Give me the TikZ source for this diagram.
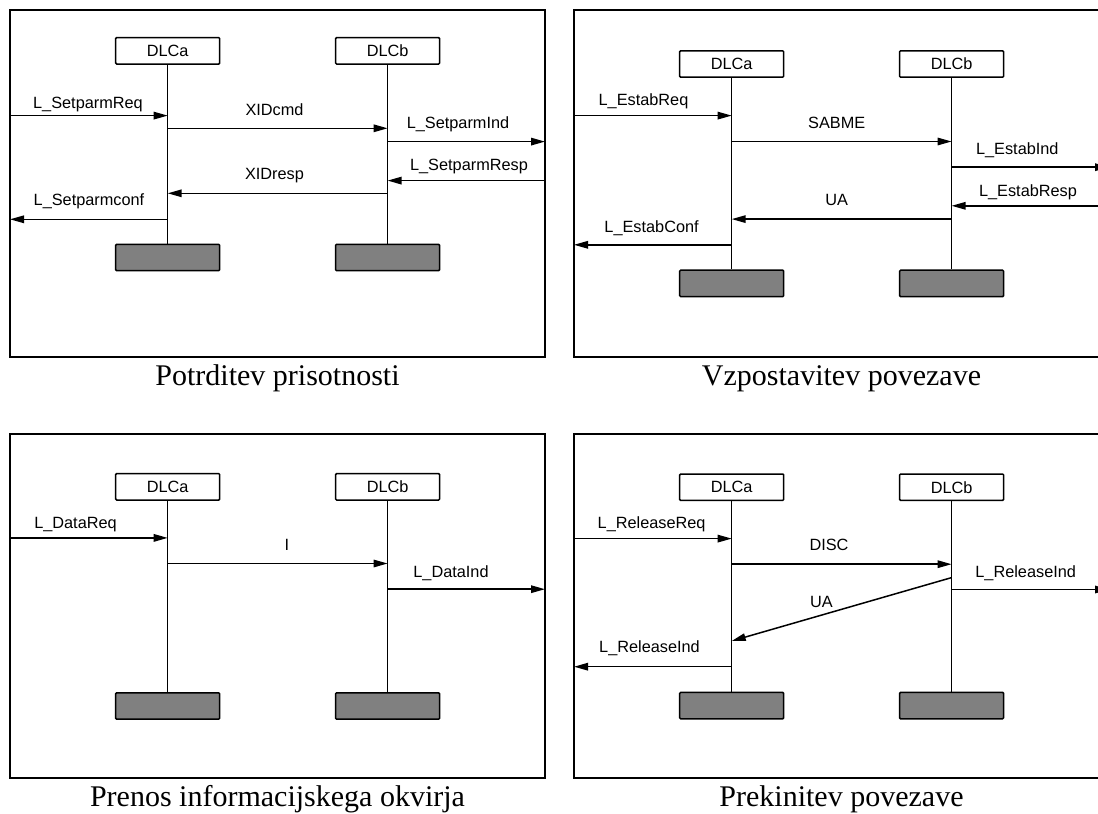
\documentclass[tikz,border=0pt]{standalone}
\usepackage{fontspec}
\setmainfont{Liberation Serif}
\newfontfamily\arialfont{Liberation Sans}
\usetikzlibrary{arrows.meta}
\definecolor{endgrey}{HTML}{808080}
\tikzset{
  panel/.style={draw, line width=2pt},
  dlcbox/.style={draw, line width=1.5pt, rounded corners=1pt, minimum width=104pt,
    minimum height=26.4pt, inner sep=0pt, font={\arialfont\fontsize{16.3}{19}\selectfont}},
  endbox/.style={dlcbox, fill=endgrey},
  life/.style={line width=1.5pt},
  msg/.style={line width=1.5pt, -{Triangle[length=14pt,width=7.5pt]}},
  msglabel/.style={anchor=base, inner sep=0pt, font={\arialfont\fontsize{16.3}{19}\selectfont}},
  caption/.style={anchor=base, inner sep=0pt, font={\fontsize{30}{36}\selectfont}},
}
\begin{document}
\begin{tikzpicture}[x=1pt,y=-1pt]
\useasboundingbox (0,0) rectangle (1098,814);
\clip (0,0) rectangle (1098,814);

% ---------- Potrditev prisotnosti ----------
\draw[panel] (10,10) rectangle (545,357);
\node[dlcbox] (p1a) at (167.7,50.8) {DLCa};
\node[dlcbox] (p1b) at (387.6,50.8) {DLCb};
\node[endbox] (p1ae) at (167.7,257.5) {};
\node[endbox] (p1be) at (387.6,257.5) {};
\draw[life] (p1a) -- (p1ae);
\draw[life] (p1b) -- (p1be);
\coordinate (p1m1) at (10,115.6);
\coordinate (p1m2) at (0,128.3);
\coordinate (p1m3) at (545,141.6);
\coordinate (p1m4) at (545,180.6);
\coordinate (p1m5) at (0,193.3);
\coordinate (p1m6) at (10,219.3);
\draw[msg] (p1m1) -- (p1a |- p1m1);
\draw[msg] (p1a |- p1m2) -- (p1b |- p1m2);
\draw[msg] (p1b |- p1m3) -- (p1m3);
\draw[msg] (p1m4) -- (p1b |- p1m4);
\draw[msg] (p1b |- p1m5) -- (p1a |- p1m5);
\draw[msg] (p1a |- p1m6) -- (p1m6);
\node[msglabel] (p1l1) at (88,108) {L\_SetparmReq};
\node[msglabel] (p1l2) at (274.5,115.8) {XIDcmd};
\node[msglabel] (p1l3) at (458,128.4) {L\_SetparmInd};
\node[msglabel] (p1l4) at (469,170) {L\_SetparmResp};
\node[msglabel] (p1l5) at (274.5,179.7) {XIDresp};
\node[msglabel] (p1l6) at (89,205.6) {L\_Setparmconf};
\node[caption] (p1cap) at (277.5,385) {Potrditev prisotnosti};

% ---------- Vzpostavitev povezave ----------
\draw[panel] (574,10) rectangle (1109,357);
\node[dlcbox] (p2a) at (731.7,64) {DLCa};
\node[dlcbox] (p2b) at (951.6,64) {DLCb};
\node[endbox] (p2ae) at (731.7,283.4) {};
\node[endbox] (p2be) at (951.6,283.4) {};
\draw[life] (p2a) -- (p2ae);
\draw[life] (p2b) -- (p2be);
\coordinate (p2m1) at (574,115.6);
\coordinate (p2m2) at (0,141.5);
\coordinate (p2m3) at (1109,167.2);
\coordinate (p2m4) at (1109,205.8);
\coordinate (p2m5) at (0,219.1);
\coordinate (p2m6) at (574,244.8);
\draw[msg] (p2m1) -- (p2a |- p2m1);
\draw[msg] (p2a |- p2m2) -- (p2b |- p2m2);
\draw[msg] (p2b |- p2m3) -- (p2m3);
\draw[msg] (p2m4) -- (p2b |- p2m4);
\draw[msg] (p2b |- p2m5) -- (p2a |- p2m5);
\draw[msg] (p2a |- p2m6) -- (p2m6);
\node[msglabel] (p2l1) at (643.5,105.8) {L\_EstabReq};
\node[msglabel] (p2l2) at (836.7,128.4) {SABME};
\node[msglabel] (p2l3) at (1017.3,154) {L\_EstabInd};
\node[msglabel] (p2l4) at (1028,196.3) {L\_EstabResp};
\node[msglabel] (p2l5) at (836.7,205.6) {UA};
\node[msglabel] (p2l6) at (651.6,232.2) {L\_EstabConf};
\node[caption] (p2cap) at (841.5,385) {Vzpostavitev povezave};

% ---------- Prenos informacijskega okvirja ----------
\draw[panel] (10,434) rectangle (545,778);
\node[dlcbox] (p3a) at (167.7,486.8) {DLCa};
\node[dlcbox] (p3b) at (387.6,486.8) {DLCb};
\node[endbox] (p3ae) at (167.7,706) {};
\node[endbox] (p3be) at (387.6,706) {};
\draw[life] (p3a) -- (p3ae);
\draw[life] (p3b) -- (p3be);
\coordinate (p3m1) at (10,537.9);
\coordinate (p3m2) at (0,563.5);
\coordinate (p3m3) at (545,589.2);
\draw[msg] (p3m1) -- (p3a |- p3m1);
\draw[msg] (p3a |- p3m2) -- (p3b |- p3m2);
\draw[msg] (p3b |- p3m3) -- (p3m3);
\node[msglabel] (p3l1) at (75.5,528.4) {L\_DataReq};
\node[msglabel] (p3l2) at (287,550) {I};
\node[msglabel] (p3l3) at (451,577) {L\_DataInd};
\node[caption] (p3cap) at (277.5,806) {Prenos informacijskega okvirja};

% ---------- Prekinitev povezave ----------
\draw[panel] (574,434) rectangle (1109,778);
\node[dlcbox] (p4a) at (731.7,487.2) {DLCa};
\node[dlcbox] (p4b) at (951.6,487.2) {DLCb};
\node[endbox] (p4ae) at (731.7,705.6) {};
\node[endbox] (p4be) at (951.6,705.6) {};
\draw[life] (p4a) -- (p4ae);
\draw[life] (p4b) -- (p4be);
\coordinate (p4m1) at (574,538.6);
\coordinate (p4m2) at (0,564.2);
\coordinate (p4m3) at (1109,589.5);
\coordinate (p4m4s) at (0,577.6);
\coordinate (p4m4e) at (0,641);
\coordinate (p4m5) at (574,666.7);
\draw[msg] (p4m1) -- (p4a |- p4m1);
\draw[msg] (p4a |- p4m2) -- (p4b |- p4m2);
\draw[msg] (p4b |- p4m3) -- (p4m3);
\draw[msg] (p4b |- p4m4s) -- (p4a |- p4m4e);
\draw[msg] (p4a |- p4m5) -- (p4m5);
\node[msglabel] (p4l1) at (651.6,528.4) {L\_ReleaseReq};
\node[msglabel] (p4l2) at (829,550) {DISC};
\node[msglabel] (p4l3) at (1025.7,577) {L\_ReleaseInd};
\node[msglabel] (p4l4) at (821.5,607.6) {UA};
\node[msglabel] (p4l5) at (649.5,652.6) {L\_ReleaseInd};
\node[caption] (p4cap) at (841.5,806) {Prekinitev povezave};
\end{tikzpicture}
\end{document}
